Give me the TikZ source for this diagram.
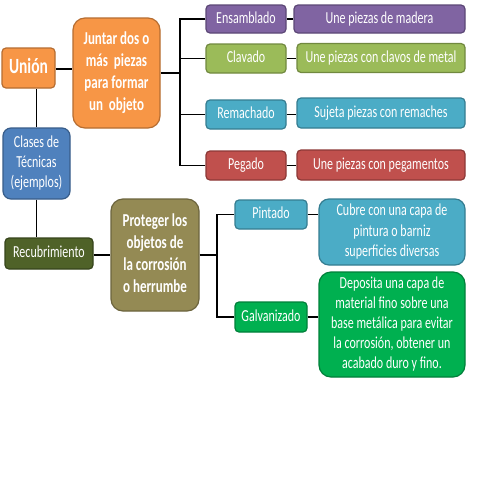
\documentclass[tikz,border=0pt]{standalone}
\usepackage{fontspec}
\setmainfont{Carlito}
\usepackage{graphicx}
\newcommand\tx[1]{\scalebox{1}[1.4]{\begin{tabular}{@{}c@{}}#1\end{tabular}}}
\definecolor{cpur}{HTML}{8064A2}\definecolor{cpurb}{HTML}{5C4776}
\definecolor{cgrn}{HTML}{9BBB59}\definecolor{cgrnb}{HTML}{71893F}
\definecolor{caqu}{HTML}{4BACC6}\definecolor{caqub}{HTML}{357D91}
\definecolor{cred}{HTML}{C0504D}\definecolor{credb}{HTML}{8C3836}
\definecolor{cora}{HTML}{F79646}\definecolor{corab}{HTML}{B66D31}
\definecolor{cblu}{HTML}{4F81BD}\definecolor{cblub}{HTML}{385D8A}
\definecolor{colv}{HTML}{4F6228}\definecolor{colvb}{HTML}{36441B}
\definecolor{cbrn}{HTML}{948A54}\definecolor{cbrnb}{HTML}{6C643D}
\definecolor{cgal}{HTML}{00B050}\definecolor{cgalb}{HTML}{00803A}
\tikzset{
  box/.style={draw=#1b, fill=#1, line width=1.2pt, rounded corners=4pt, text=white, inner sep=0pt,
    font=\fontsize{12}{14.4}\selectfont},
  big/.style={rounded corners=12pt},
  bigfont/.style={font=\fontsize{13}{15.6}\selectfont\bfseries},
  conn/.style={line width=1.6pt, black},
}
\begin{document}
\begin{tikzpicture}[x=1pt,y=-1pt]
\useasboundingbox (0,0) rectangle (480,480);
\fill[white] (0,0) rectangle (480,480);
% nodes
\node[box=cora, minimum width=53pt, minimum height=40pt, font=\fontsize{15.5}{18}\selectfont\bfseries] (union) at (28.5,68) {\tx{Unión}};
\node[box=cora, big, bigfont, minimum width=87pt, minimum height=110pt] (juntar) at (116.5,73) {\tx{Juntar dos o\\más \ piezas\\para formar\\un \ objeto}};
\node[box=cblu, rounded corners=8pt, minimum width=67pt, minimum height=71pt] (clases) at (36.5,163.5) {\tx{Clases de\\Técnicas\\(ejemplos)}};
\node[box=colv, minimum width=88pt, minimum height=31pt] (recub) at (49,253.5) {\tx{Recubrimiento}};
\node[box=cbrn, big, bigfont, minimum width=88pt, minimum height=112pt] (proteger) at (155,255) {\tx{Proteger los\\objetos de\\la corrosión\\o herrumbe}};
\node[box=cpur, minimum width=80pt, minimum height=28pt] (ens) at (246,19) {\tx{Ensamblado}};
\node[box=cpur, minimum width=171pt, minimum height=28pt] (ensd) at (379.5,19) {\tx{Une piezas de madera}};
\node[box=cgrn, minimum width=80pt, minimum height=29pt] (clav) at (246,58.5) {\tx{Clavado}};
\node[box=cgrn, minimum width=168pt, minimum height=29pt] (clavd) at (381,58) {\tx{Une piezas con clavos de metal}};
\node[box=caqu, minimum width=80pt, minimum height=29pt] (rem) at (246,114.5) {\tx{Remachado}};
\node[box=caqu, minimum width=168pt, minimum height=30pt] (remd) at (381,113) {\tx{Sujeta piezas con remaches}};
\node[box=cred, minimum width=80pt, minimum height=29pt] (peg) at (246,165.5) {\tx{Pegado}};
\node[box=cred, minimum width=168pt, minimum height=30pt] (pegd) at (381,165) {\tx{Une piezas con pegamentos}};
\node[box=caqu, minimum width=72pt, minimum height=29pt] (pint) at (271,214.5) {\tx{Pintado}};
\node[box=caqu, rounded corners=10pt, minimum width=146pt, minimum height=66pt] (cubre) at (392,232) {\tx{Cubre con una capa de\\pintura o barniz\\superficies diversas}};
\node[box=cgal, minimum width=72pt, minimum height=30pt] (galv) at (271,317) {\tx{Galvanizado}};
\node[box=cgal, big, minimum width=146pt, minimum height=105pt] (depo) at (392,324.5) {\tx{Deposita una capa de\\material fino sobre una\\base metálica para evitar\\la corrosión, obtener un\\acabado duro y fino.}};
% connectors
\coordinate (bus1) at (180,73);
\coordinate (bus2) at (217,255);
\draw[conn] (union.east |- 0,69) -- (juntar.west |- 0,69);
\draw[conn] (clases.north) -- (clases.north |- union.south);
\draw[conn] (clases.south) -- (clases.south |- recub.north);
\draw[conn] (recub.east |- proteger.west) -- (proteger.west);
\draw[conn] (juntar.east) -- (bus1);
\draw[conn] (ens.west) -| (bus1);
\draw[conn] (peg.west) -| (bus1);
\draw[conn] (clav.west) -- (clav.west -| bus1);
\draw[conn] (rem.west) -- (rem.west -| bus1);
\draw[conn] (ens.east) -- (ensd.west);
\draw[conn] (clav.east) -- (clav.east -| clavd.west);
\draw[conn] (rem.east) -- (rem.east -| remd.west);
\draw[conn] (peg.east) -- (peg.east -| pegd.west);
\draw[conn] (proteger.east) -- (bus2);
\draw[conn] (pint.west) -| (bus2);
\draw[conn] (galv.west) -| (bus2);
\draw[conn] (pint.east) -- (pint.east -| cubre.west);
\draw[conn] (galv.east) -- (galv.east -| depo.west);
\end{tikzpicture}
\end{document}
